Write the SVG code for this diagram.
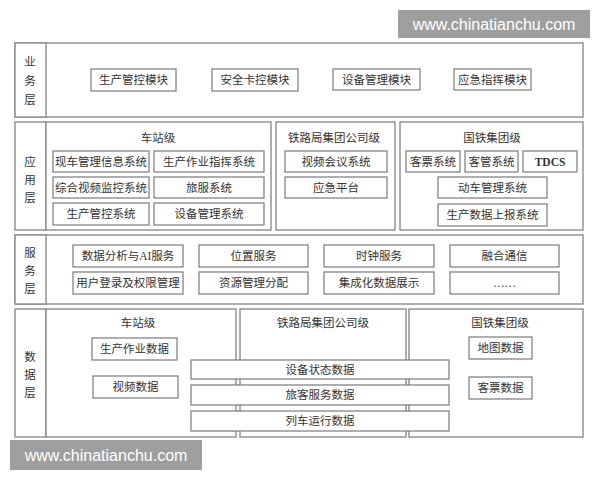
<svg xmlns="http://www.w3.org/2000/svg" width="600" height="480" viewBox="0 0 600 480">
<style>
.p{fill:#fff;stroke:#8c8c8c;stroke-width:1.4}
.b{fill:#fff;stroke:#7a7a7a;stroke-width:1.2}
.t{font-family:"Liberation Serif","Noto Sans CJK SC",serif;font-size:11.5px;fill:#333;text-anchor:middle;dominant-baseline:central}
.w{fill:#9e9e9e}
.wt{font-family:"Liberation Sans",sans-serif;font-size:16px;fill:#fff;text-anchor:middle;dominant-baseline:central}
</style>
<rect width="600" height="480" fill="#fff"/>

<g id="layer-business">
<rect class="p" x="15" y="43" width="568" height="74"/>
<rect class="p" x="15" y="43" width="31" height="74"/>
<text class="t" x="30" y="62">业</text><text class="t" x="30" y="81">务</text><text class="t" x="30" y="100">层</text>
</g>
<g id="n-scgk"><rect class="b" x="91" y="69" width="85" height="22"/><text class="t" x="133.5" y="80">生产管控模块</text></g>
<g id="n-aqkk"><rect class="b" x="212" y="69" width="86" height="22"/><text class="t" x="255" y="80">安全卡控模块</text></g>
<g id="n-sbgl"><rect class="b" x="333" y="69" width="87" height="21"/><text class="t" x="376.5" y="79.5">设备管理模块</text></g>
<g id="n-yjzh"><rect class="b" x="454" y="69" width="77" height="21"/><text class="t" x="492.5" y="79.5">应急指挥模块</text></g>

<g id="layer-app">
<rect class="p" x="15" y="122" width="31" height="108"/>
<text class="t" x="30" y="162">应</text><text class="t" x="30" y="180">用</text><text class="t" x="30" y="198">层</text>
<rect class="p" x="46" y="122" width="225" height="108"/>
<text class="t" x="158" y="138">车站级</text>
<rect class="p" x="276" y="122" width="119" height="108"/>
<text class="t" x="334" y="138">铁路局集团公司级</text>
<rect class="p" x="400" y="122" width="183" height="108"/>
<text class="t" x="492" y="138">国铁集团级</text>
</g>
<g id="n-xcgl"><rect class="b" x="53" y="151" width="96" height="21"/><text class="t" x="101" y="161.5">现车管理信息系统</text></g>
<g id="n-sczy"><rect class="b" x="154" y="151" width="110" height="21"/><text class="t" x="209" y="161.5">生产作业指挥系统</text></g>
<g id="n-zhsp"><rect class="b" x="53" y="177" width="96" height="21"/><text class="t" x="101" y="187.5">综合视频监控系统</text></g>
<g id="n-lf"><rect class="b" x="154" y="177" width="110" height="21"/><text class="t" x="209" y="187.5">旅服系统</text></g>
<g id="n-scgkxt"><rect class="b" x="53" y="203" width="96" height="22"/><text class="t" x="101" y="214">生产管控系统</text></g>
<g id="n-sbglxt"><rect class="b" x="154" y="203" width="110" height="22"/><text class="t" x="209" y="214">设备管理系统</text></g>
<g id="n-sphy"><rect class="b" x="285" y="151" width="102" height="21"/><text class="t" x="336" y="161.5">视频会议系统</text></g>
<g id="n-yjpt"><rect class="b" x="285" y="177" width="102" height="21"/><text class="t" x="336" y="187.5">应急平台</text></g>
<g id="n-kp"><rect class="b" x="406" y="151" width="54" height="21"/><text class="t" x="433" y="161.5">客票系统</text></g>
<g id="n-kg"><rect class="b" x="465" y="151" width="53" height="21"/><text class="t" x="491.5" y="161.5">客管系统</text></g>
<g id="n-tdcs"><rect class="b" x="523" y="151" width="54" height="21"/><text class="t" x="550" y="161.5" font-weight="bold">TDCS</text></g>
<g id="n-dcgl"><rect class="b" x="438" y="177" width="109" height="21"/><text class="t" x="492.5" y="187.5">动车管理系统</text></g>
<g id="n-scsj"><rect class="b" x="438" y="204" width="109" height="22"/><text class="t" x="492.5" y="215">生产数据上报系统</text></g>

<g id="layer-service">
<rect class="p" x="15" y="235" width="568" height="69"/>
<rect class="p" x="15" y="235" width="31" height="69"/>
<text class="t" x="30" y="253">服</text><text class="t" x="30" y="271">务</text><text class="t" x="30" y="289">层</text>
</g>
<g id="n-sjfx"><rect class="b" x="73" y="245" width="110" height="22"/><text class="t" x="128" y="256">数据分析与AI服务</text></g>
<g id="n-wz"><rect class="b" x="199" y="245" width="109" height="22"/><text class="t" x="253.5" y="256">位置服务</text></g>
<g id="n-sz"><rect class="b" x="324" y="245" width="110" height="22"/><text class="t" x="379" y="256">时钟服务</text></g>
<g id="n-rh"><rect class="b" x="450" y="245" width="109" height="22"/><text class="t" x="504.5" y="256">融合通信</text></g>
<g id="n-yhdl"><rect class="b" x="73" y="272" width="110" height="22"/><text class="t" x="128" y="283">用户登录及权限管理</text></g>
<g id="n-zygl"><rect class="b" x="199" y="272" width="109" height="22"/><text class="t" x="253.5" y="283">资源管理分配</text></g>
<g id="n-jch"><rect class="b" x="324" y="272" width="110" height="22"/><text class="t" x="379" y="283">集成化数据展示</text></g>
<g id="n-more"><rect class="b" x="450" y="272" width="109" height="22"/><text class="t" x="504.5" y="283">……</text></g>

<g id="layer-data">
<rect class="p" x="15" y="309" width="31" height="128"/>
<text class="t" x="30" y="357">数</text><text class="t" x="30" y="375">据</text><text class="t" x="30" y="393">层</text>
<rect class="p" x="46" y="309" width="190" height="128"/>
<text class="t" x="138" y="323">车站级</text>
<rect class="p" x="240" y="309" width="166" height="128"/>
<text class="t" x="323" y="323">铁路局集团公司级</text>
<rect class="p" x="409" y="309" width="174" height="128"/>
<text class="t" x="500" y="323">国铁集团级</text>
</g>
<g id="n-sczysj"><rect class="b" x="92" y="338" width="85" height="22"/><text class="t" x="134.5" y="349">生产作业数据</text></g>
<g id="n-spsj"><rect class="b" x="93" y="376" width="85" height="22"/><text class="t" x="135.5" y="387">视频数据</text></g>
<g id="n-sbzt"><rect class="b" x="191" y="360" width="258" height="19"/><text class="t" x="320" y="369.5">设备状态数据</text></g>
<g id="n-lkfw"><rect class="b" x="191" y="385" width="258" height="20"/><text class="t" x="320" y="395">旅客服务数据</text></g>
<g id="n-lcyx"><rect class="b" x="191" y="411" width="258" height="20"/><text class="t" x="320" y="421">列车运行数据</text></g>
<g id="n-dt"><rect class="b" x="469" y="337" width="63" height="22"/><text class="t" x="500.5" y="348">地图数据</text></g>
<g id="n-kpsj"><rect class="b" x="469" y="377" width="63" height="22"/><text class="t" x="500.5" y="388">客票数据</text></g>

<g id="connectors"/>

<g id="watermarks">
<rect class="w" x="398" y="10" width="192" height="28"/>
<text class="wt" x="494" y="24">www.chinatianchu.com</text>
<rect class="w" x="10" y="440" width="192" height="30"/>
<text class="wt" x="106" y="455">www.chinatianchu.com</text>
</g>
</svg>
